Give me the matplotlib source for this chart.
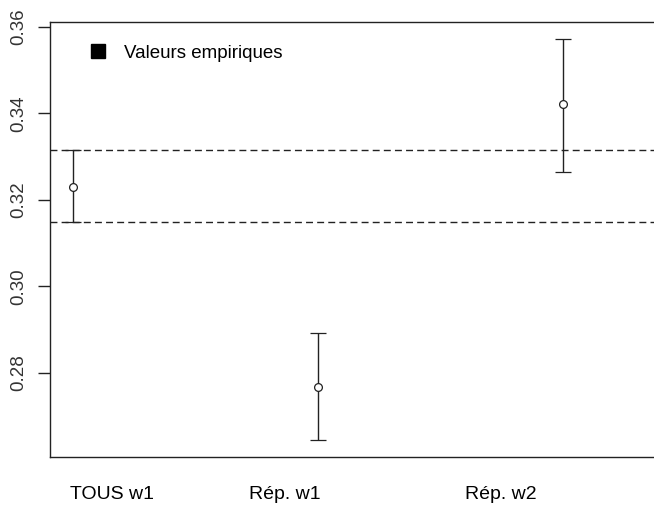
import numpy as np
import matplotlib
matplotlib.use("Agg")
import matplotlib.pyplot as plt
from matplotlib.lines import Line2D

plt.rcParams["font.family"] = ["Liberation Sans", "DejaVu Sans"]

# estimates with confidence bounds
groups = ["TOUS w1", "Rép. w1", "Rép. w2"]
means = [0.3230, 0.2768, 0.3421]
lower = [0.3148, 0.2645, 0.3265]
upper = [0.3316, 0.2892, 0.3573]
# reference band taken from the first group
band = [0.3148, 0.3316]
yticks = [0.28, 0.30, 0.32, 0.34, 0.36]

x = np.arange(1, len(groups) + 1)
means = np.array(means)
err = np.vstack([means - np.array(lower), np.array(upper) - means])

col = "#222222"
fig = plt.figure(figsize=(6.54, 5.08), dpi=100)
ax = fig.add_axes([50 / 654, 51.3 / 508, 604 / 654, 435 / 508])

ax.errorbar(x, means, yerr=err, fmt="o", color=col, mfc="white", mec=col,
            ms=5.6, mew=0.9, elinewidth=1.0, capsize=6, capthick=1.0)
for b in band:
    ax.axhline(b, color=col, lw=1.0, ls=(0, (5, 3)))

ax.set_xlim(0.907, 3.372)
ax.set_ylim(0.2606, 0.3612)
ax.set_yticks(yticks)
ax.set_yticklabels([f"{t:.2f}" for t in yticks], rotation=90, va="center")
ax.tick_params(axis="y", length=8.6, width=1.0, pad=8, labelsize=13.5,
               colors=col, labelcolor="#333333")
ax.set_xticks([])
for s in ["left", "bottom", "top"]:
    ax.spines[s].set_color(col)
    ax.spines[s].set_linewidth(1.0)
ax.spines["right"].set_visible(False)

# group names sit under the plot, offset from each estimate
label_x = x + np.array([0.162, -0.134, -0.252])
for lx, g in zip(label_x, groups):
    ax.text(lx, -0.088, g, transform=ax.get_xaxis_transform(),
            ha="center", va="center", fontsize=14, color="black")

handle = Line2D([], [], marker="s", color="black", ls="none", ms=10.5)
ax.legend([handle], ["Valeurs empiriques"], loc="center left",
          bbox_to_anchor=((88.8 - 50) / 604, 0.927), frameon=False,
          fontsize=13.5, handlelength=1.0, handletextpad=0.87,
          borderpad=0, borderaxespad=0)

fig.savefig("out.png", dpi=100)
